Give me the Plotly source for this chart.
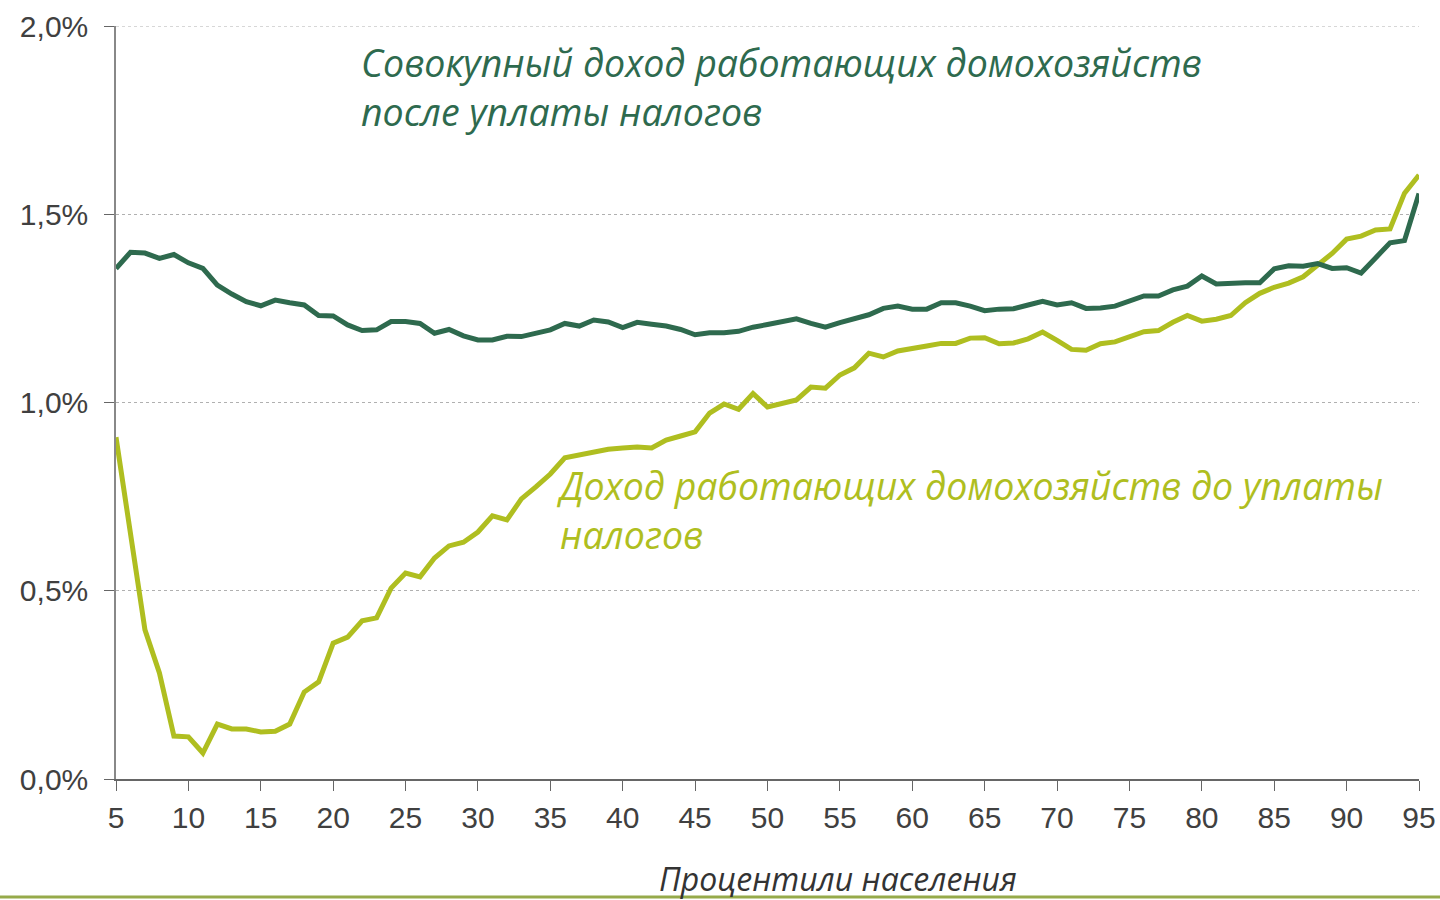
import plotly.graph_objects as go

percentiles = list(range(5, 96))

after_tax = [
    1.356, 1.399, 1.397, 1.383, 1.393, 1.371, 1.356, 1.312, 1.288, 1.268,  # 5-14
    1.257, 1.272, 1.265, 1.259, 1.231, 1.230, 1.206, 1.191, 1.193, 1.215,  # 15-24
    1.215, 1.210, 1.184, 1.194, 1.177, 1.166, 1.166, 1.176, 1.175, 1.185,  # 25-34
    1.193, 1.210, 1.203, 1.219, 1.214, 1.199, 1.213, 1.208, 1.203, 1.194,  # 35-44
    1.180, 1.185, 1.185, 1.189, 1.200, 1.207, 1.215, 1.222, 1.210, 1.200,  # 45-54
    1.212, 1.222, 1.233, 1.250, 1.256, 1.248, 1.248, 1.265, 1.265, 1.256,  # 55-64
    1.244, 1.248, 1.249, 1.259, 1.269, 1.259, 1.265, 1.250, 1.251, 1.256,  # 65-74
    1.268, 1.283, 1.283, 1.299, 1.309, 1.336, 1.315, 1.318, 1.318, 1.318,  # 75-84
    1.355, 1.363, 1.362, 1.369, 1.356, 1.358, 1.344, 1.384, 1.424, 1.430,  # 85-94
    1.555,                                                                 # 95
]

pre_tax = [
    0.908, 0.650, 0.396, 0.282, 0.114, 0.112, 0.069, 0.146, 0.133, 0.133,  # 5-14
    0.125, 0.127, 0.146, 0.231, 0.258, 0.361, 0.377, 0.420, 0.428, 0.507,  # 15-24
    0.547, 0.537, 0.587, 0.619, 0.629, 0.656, 0.699, 0.688, 0.744, 0.776,  # 25-34
    0.810, 0.853, 0.861, 0.869, 0.876, 0.879, 0.882, 0.879, 0.900, 0.911,  # 35-44
    0.922, 0.972, 0.996, 0.982, 1.024, 0.988, 0.999, 1.007, 1.041, 1.038,  # 45-54
    1.073, 1.092, 1.131, 1.121, 1.137, 1.145, 1.150, 1.157, 1.157, 1.171,  # 55-64
    1.172, 1.156, 1.158, 1.169, 1.187, 1.165, 1.141, 1.139, 1.156, 1.161,  # 65-74
    1.173, 1.188, 1.191, 1.213, 1.231, 1.216, 1.221, 1.231, 1.265, 1.290,  # 75-84
    1.306, 1.317, 1.334, 1.363, 1.396, 1.434, 1.442, 1.458, 1.461, 1.556,  # 85-94
    1.604,                                                                 # 95
]

x_ticks = list(range(5, 96, 5))
y_ticks = [0.0, 0.5, 1.0, 1.5, 2.0]
y_tick_text = ["0,0%", "0,5%", "1,0%", "1,5%", "2,0%"]

label_after = "Совокупный доход работающих домохозяйств<br>после уплаты налогов"
label_pre = "Доход работающих домохозяйств до уплаты<br>налогов"
x_title = "Процентили населения"

DARK = "#2e6a4e"
LIGHT = "#afbe20"
TICK_FONT = dict(family="Liberation Sans, Arial, sans-serif", size=30, color="#404040")
ITALIC_FONT = "Open Sans, Noto Sans, sans-serif"

fig = go.Figure()
fig.add_trace(go.Scatter(x=percentiles, y=pre_tax, mode="lines",
                         line=dict(color=LIGHT, width=5), showlegend=False,
                         name="pre_tax"))
fig.add_trace(go.Scatter(x=percentiles, y=after_tax, mode="lines",
                         line=dict(color=DARK, width=5), showlegend=False,
                         name="after_tax"))

fig.update_layout(
    width=1440, height=900, autosize=False,
    margin=dict(l=116, r=21, t=26, b=121, pad=0),
    paper_bgcolor="white", plot_bgcolor="white",
    xaxis=dict(
        range=[5, 95], tickvals=x_ticks, ticks="outside", ticklen=10,
        tickcolor="#666666", tickwidth=1, showline=True, linecolor="#666666",
        linewidth=2, showgrid=False, zeroline=False, tickfont=TICK_FONT,
        ticklabelstandoff=1, automargin=False,
    ),
    yaxis=dict(
        range=[0, 2.0], tickvals=y_ticks, ticktext=y_tick_text,
        ticks="outside", ticklen=10, tickcolor="#666666", tickwidth=1,
        showline=True, linecolor="#888888", linewidth=1.5,
        showgrid=True, gridcolor="#b0b0b0", gridwidth=1, griddash="dot",
        zeroline=False, tickfont=TICK_FONT, ticklabelstandoff=10,
        automargin=False,
    ),
)

# top gridline at 2,0% (plotly omits the grid line at the plot edge)
fig.add_shape(type="line", xref="paper", yref="y", x0=0, x1=1, y0=2.0, y1=2.0,
              line=dict(color="#b0b0b0", width=1, dash="dot"), layer="below")

fig.add_annotation(
    x=21.8, y=1.8367, xref="x", yref="y", xanchor="left", yanchor="middle",
    text="<i>" + label_after + "</i>", showarrow=False, align="left",
    font=dict(family=ITALIC_FONT, size=37.5, color=DARK),
)
fig.add_annotation(
    x=35.25, y=0.7145, xref="x", yref="y", xanchor="left", yanchor="middle",
    text="<i>" + label_pre + "</i>", showarrow=False, align="left",
    font=dict(family=ITALIC_FONT, size=37.5, color=LIGHT),
)
fig.add_annotation(
    x=54.9, y=-0.1315, xref="x", yref="paper", xanchor="center", yanchor="middle",
    text="<i>" + x_title + "</i>", showarrow=False,
    font=dict(family=ITALIC_FONT, size=32, color="#333333"),
)
fig.add_shape(
    type="line", xref="paper", yref="paper", x0=-0.09, x1=1.02,
    y0=-0.1567, y1=-0.1567, line=dict(color="#96aa4a", width=3), layer="above",
)

fig.write_html(
    "out.html",
    config={"displayModeBar": False},
    post_script="document.body.style.margin='0';document.body.style.overflow='hidden';",
)
